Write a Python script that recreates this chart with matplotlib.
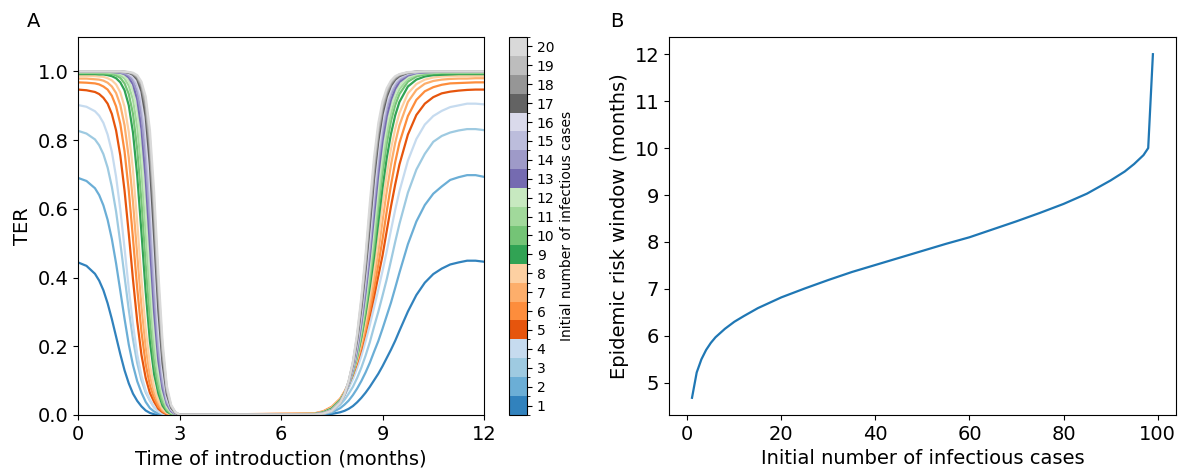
"""Risk of an epidemic by time of introduction and initial number of cases."""

import numpy as np
import matplotlib.pyplot as plt
from matplotlib.colors import ListedColormap, BoundaryNorm
from matplotlib.cm import ScalarMappable

# ---- Panel A: TER against time of introduction ----
months = [0, 0.25, 0.5, 0.625, 0.75, 0.875, 1.0, 1.125, 1.25, 1.375, 1.5, 1.625, 1.75,
          1.875, 2.0, 2.125, 2.25, 2.375, 2.5, 2.625, 2.75, 2.875, 3.0,
          7.0, 7.25, 7.5, 7.75, 7.875, 8.0, 8.125, 8.25, 8.375, 8.5, 8.625, 8.75, 8.875,
          9.0, 9.125, 9.25, 9.375, 9.5, 9.75, 10.0, 10.25, 10.5, 10.75, 11.0, 11.25,
          11.5, 11.75, 12.0]

ter_1 = [.444, .434, .411, .391, .363, .325, .279, .228, .177, .130, .092, .062, .041, .025, .013, .006, .002, 0, 0, 0, 0, 0, 0,
         0, .001, .003, .008, .012, .018, .026, .037, .050, .065, .082, .101, .120, .142, .166, .190, .216, .245, .301, .349, .385, .410, .426, .438, .444, .449, .449, .446]
ter_2 = [.690, .681, .660, .640, .610, .568, .512, .441, .361, .280, .205, .145, .098, .065, .038, .020, .010, .004, .001, 0, 0, 0, 0,
         0, .002, .007, .020, .030, .042, .058, .077, .099, .124, .152, .184, .215, .251, .289, .327, .370, .414, .497, .563, .611, .644, .665, .684, .692, .698, .698, .693]
ter_3 = [.827, .819, .802, .785, .759, .720, .664, .592, .501, .403, .306, .220, .151, .101, .066, .042, .022, .011, .004, .001, 0, 0, 0,
         0, .003, .010, .030, .044, .062, .082, .108, .138, .173, .212, .257, .300, .347, .395, .449, .504, .556, .647, .714, .760, .795, .812, .822, .828, .832, .832, .829]
ter_4 = [.902, .897, .884, .871, .850, .816, .766, .693, .598, .485, .368, .263, .176, .114, .071, .043, .022, .010, .003, 0, 0, 0, 0,
         .001, .004, .015, .040, .056, .078, .104, .136, .172, .215, .262, .313, .365, .419, .476, .538, .597, .651, .740, .803, .845, .870, .885, .896, .901, .906, .906, .904]
ter_5 = [.947, .945, .940, .934, .923, .906, .876, .828, .755, .653, .528, .394, .272, .175, .108, .064, .038, .018, .008, .002, 0, 0, 0,
         .003, .008, .020, .045, .063, .088, .117, .152, .192, .240, .290, .344, .404, .464, .536, .607, .671, .729, .816, .873, .906, .925, .936, .941, .944, .946, .947, .947]
ter_6 = [.968, .967, .965, .962, .956, .947, .929, .898, .847, .767, .653, .513, .368, .242, .148, .086, .049, .024, .011, .004, .001, 0, 0,
         .005, .011, .024, .048, .068, .092, .123, .157, .199, .248, .305, .369, .437, .511, .593, .669, .736, .792, .870, .917, .942, .954, .961, .965, .966, .967, .968, .968]
ter_7 = [.979, .979, .977, .976, .973, .967, .956, .937, .902, .843, .749, .619, .465, .316, .197, .114, .064, .034, .014, .005, .001, 0, 0,
         .004, .010, .022, .046, .066, .092, .122, .159, .205, .262, .326, .398, .474, .564, .651, .728, .792, .843, .911, .946, .964, .972, .976, .978, .979, .979, .980, .980]
ter_8 = [.987, .987, .986, .985, .984, .980, .974, .962, .939, .897, .824, .712, .560, .395, .251, .145, .080, .042, .018, .007, .002, 0, 0,
         .004, .009, .021, .045, .065, .091, .123, .164, .215, .277, .348, .427, .513, .611, .699, .774, .833, .879, .936, .963, .976, .982, .985, .986, .987, .987, .987, .987]
ter_9 = [.992, .992, .992, .991, .991, .989, .986, .980, .968, .945, .901, .821, .696, .531, .358, .214, .118, .062, .027, .010, .003, .001, 0,
         .003, .008, .019, .043, .063, .090, .125, .170, .226, .295, .374, .460, .560, .661, .748, .818, .872, .911, .956, .976, .985, .989, .990, .991, .992, .992, .992, .992]
ter_10 = [.995, .995, .995, .994, .994, .993, .992, .988, .981, .965, .934, .876, .773, .622, .438, .272, .150, .078, .035, .014, .004, .001, 0,
          .002, .006, .016, .040, .060, .087, .123, .171, .232, .308, .395, .490, .602, .705, .790, .855, .902, .934, .970, .985, .991, .994, .995, .995, .995, .995, .995, .995]
ter_11 = [.997, .997, .997, .997, .997, .996, .995, .993, .988, .979, .958, .917, .838, .708, .528, .342, .194, .101, .049, .019, .006, .001, 0,
          .002, .006, .016, .040, .060, .088, .126, .176, .245, .323, .416, .518, .634, .737, .819, .878, .920, .948, .978, .990, .994, .996, .997, .997, .997, .997, .997, .997]
ter_12 = [.998, .998, .998, .998, .998, .998, .997, .996, .993, .986, .972, .942, .883, .774, .609, .412, .240, .126, .061, .024, .008, .002, 0,
          .002, .006, .015, .039, .060, .088, .128, .182, .252, .338, .437, .549, .667, .767, .844, .898, .935, .959, .983, .992, .996, .997, .998, .998, .998, .998, .998, .998]
ter_13 = [.999, .999, .999, .999, .999, .999, .998, .997, .996, .992, .982, .962, .918, .832, .687, .492, .298, .157, .076, .031, .011, .002, 0,
          .002, .005, .014, .038, .059, .089, .131, .188, .265, .357, .461, .581, .700, .797, .869, .917, .949, .969, .988, .995, .997, .998, .999, .999, .999, .999, .999, .999]
ter_14 = [.999, .999, .999, .999, .999, .999, .999, .998, .997, .994, .988, .973, .940, .872, .745, .559, .352, .190, .091, .037, .014, .003, 0,
          .002, .005, .013, .037, .058, .089, .134, .196, .277, .376, .486, .617, .734, .826, .891, .933, .960, .976, .991, .996, .998, .999, .999, .999, .999, .999, .999, .999]
ter_15 = [1, 1, 1, 1, 1, 1, 1, .999, .998, .997, .992, .982, .958, .905, .801, .627, .413, .229, .111, .045, .016, .004, .001,
          .002, .005, .013, .037, .059, .091, .138, .203, .288, .391, .506, .641, .756, .844, .904, .943, .966, .980, .993, .998, .999, 1, 1, 1, 1, 1, 1, 1]
ter_16 = [1, 1, 1, 1, 1, 1, 1, 1, .999, .998, .994, .986, .968, .926, .836, .678, .465, .263, .128, .052, .018, .005, .001,
          .002, .005, .013, .037, .059, .093, .142, .209, .300, .406, .528, .664, .777, .861, .916, .950, .971, .984, .995, .998, .999, 1, 1, 1, 1, 1, 1, 1]
ter_17 = [1, 1, 1, 1, 1, 1, 1, 1, .999, .998, .996, .990, .976, .942, .868, .727, .518, .304, .149, .060, .021, .006, .001,
          .002, .005, .013, .037, .060, .095, .147, .218, .311, .423, .552, .688, .797, .875, .926, .958, .976, .986, .996, .999, 1, 1, 1, 1, 1, 1, 1, 1]
ter_18 = [1, 1, 1, 1, 1, 1, 1, 1, 1, .999, .997, .993, .982, .956, .896, .772, .574, .348, .174, .070, .025, .007, .001,
          .002, .005, .013, .037, .061, .098, .151, .226, .324, .441, .577, .712, .818, .891, .936, .964, .980, .989, .997, .999, 1, 1, 1, 1, 1, 1, 1, 1]
ter_19 = [1, 1, 1, 1, 1, 1, 1, 1, 1, .999, .998, .994, .986, .964, .913, .802, .612, .380, .192, .076, .027, .008, .001,
          .002, .005, .013, .037, .061, .098, .153, .231, .334, .454, .596, .731, .833, .902, .944, .969, .983, .991, .997, .999, 1, 1, 1, 1, 1, 1, 1, 1]
ter_20 = [1, 1, 1, 1, 1, 1, 1, 1, 1, .999, .998, .996, .989, .970, .927, .829, .649, .413, .212, .085, .030, .009, .001,
          .001, .004, .012, .036, .060, .099, .156, .237, .344, .469, .617, .750, .849, .913, .951, .973, .986, .992, .998, .999, 1, 1, 1, 1, 1, 1, 1, 1]

initial_cases = [1, 2, 3, 4, 5, 6, 7, 8, 9, 10, 11, 12, 13, 14, 15, 16, 17, 18, 19, 20]
ter_curves = [ter_1, ter_2, ter_3, ter_4, ter_5, ter_6, ter_7, ter_8, ter_9, ter_10,
              ter_11, ter_12, ter_13, ter_14, ter_15, ter_16, ter_17, ter_18, ter_19, ter_20]

# ---- Panel B: epidemic risk window against initial number of cases ----
cases_b = [1, 2, 3, 4, 5, 6, 8, 10, 12, 15, 20, 25, 30, 35, 40, 45, 50, 55, 60,
           65, 70, 75, 80, 85, 90, 93, 95, 97, 98, 99]
window_b = [4.68, 5.22, 5.50, 5.70, 5.85, 5.97, 6.15, 6.30, 6.42, 6.59, 6.82, 7.01,
            7.19, 7.36, 7.51, 7.66, 7.81, 7.96, 8.10, 8.27, 8.44, 8.62, 8.81, 9.03,
            9.31, 9.50, 9.66, 9.85, 10.0, 12.0]


def panel_ter(ax, cax, fig):
    """Panel A: one curve per initial number of cases, discrete colorbar."""
    colors = plt.get_cmap('tab20c').colors
    for n, ter, col in zip(initial_cases, ter_curves, colors):
        ax.plot(months, ter, color=col, linewidth=1.6)

    ax.set_xlim(0, 12)
    ax.set_ylim(0, 1.1)
    ax.set_xticks([0, 3, 6, 9, 12])
    ax.set_yticks([0, 0.2, 0.4, 0.6, 0.8, 1.0])
    ax.set_xlabel('Time of introduction (months)', fontsize=14)
    ax.set_ylabel('TER', fontsize=14)
    ax.tick_params(labelsize=14)

    cmap = ListedColormap(colors)
    norm = BoundaryNorm(np.arange(0.5, 21.5, 1), cmap.N)
    sm = ScalarMappable(norm=norm, cmap=cmap)
    cbar = fig.colorbar(sm, cax=cax, ticks=initial_cases)
    cbar.set_label('Initial number of infectious cases', fontsize=10)
    cbar.ax.tick_params(labelsize=10)


def panel_window(ax):
    """Panel B: length of the epidemic risk window."""
    ax.plot(cases_b, window_b, color='tab:blue', linewidth=1.6)
    ax.set_xticks([0, 20, 40, 60, 80, 100])
    ax.set_yticks([5, 6, 7, 8, 9, 10, 11, 12])
    ax.set_xlabel('Initial number of infectious cases', fontsize=14)
    ax.set_ylabel('Epidemic risk window (months)', fontsize=14)
    ax.tick_params(labelsize=14)


fig = plt.figure(figsize=(11.84, 4.72), dpi=100)
ax_a = fig.add_axes([0.0659, 0.1208, 0.3429, 0.8008])
cax = fig.add_axes([0.4299, 0.1208, 0.0152, 0.8008])
ax_b = fig.add_axes([0.5650, 0.1208, 0.4282, 0.8008])

panel_ter(ax_a, cax, fig)
panel_window(ax_b)

fig.text(0.0283, 0.954, 'A', fontsize=14, ha='center', va='center')
fig.text(0.5209, 0.954, 'B', fontsize=14, ha='center', va='center')

fig.savefig('out.png', dpi=100)
plt.close(fig)
